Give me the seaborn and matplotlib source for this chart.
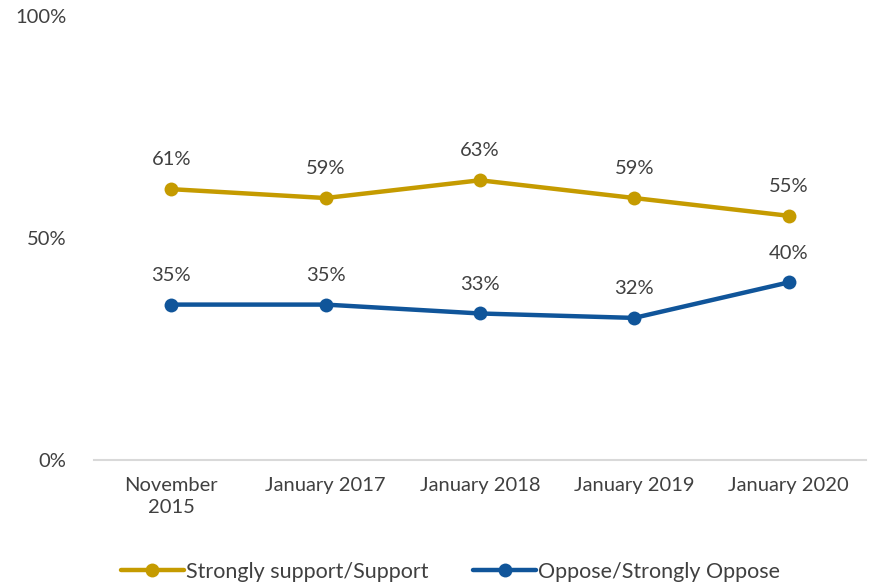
import pandas as pd
import numpy as np
import matplotlib.pyplot as plt
import seaborn as sns

periods = ["November\n2015", "January 2017", "January 2018", "January 2019", "January 2020"]
support = [61, 59, 63, 59, 55]
oppose = [35, 35, 33, 32, 40]
series_names = ["Strongly support/Support", "Oppose/Strongly Oppose"]
colors = ["#C59B00", "#10559A"]

df = pd.DataFrame({
    "period": periods * 2,
    "pos": list(range(len(periods))) * 2,
    "value": support + oppose,
    "series": [series_names[0]] * 5 + [series_names[1]] * 5,
})

sns.set_style("white")
plt.rcParams["font.family"] = ["Lato", "DejaVu Sans"]

fig = plt.figure(figsize=(8.71, 5.88), dpi=100)
ax = fig.add_axes([0.108, 0.2177, 0.886, 0.7551])

sns.lineplot(data=df, x="pos", y="value", hue="series", palette=colors,
             marker="o", markersize=10, linewidth=3.2, markeredgewidth=0, ax=ax)

# data labels
for vals in [support, oppose]:
    for i, v in enumerate(vals):
        ax.annotate(f"{v}%", (i, v), xytext=(0, 15), textcoords="offset points",
                    ha="center", va="bottom", fontsize=14.5, color="#404040")

ax.set_xlim(-0.5, 4.5)
ax.set_ylim(0, 100)
ax.set_xticks(range(len(periods)))
ax.set_xticklabels(periods, fontsize=14.5, color="#404040", linespacing=1.35)
ax.set_yticks([0, 50, 100])
ax.set_yticklabels(["0%", "50%", "100%"], fontsize=14.5, color="#404040")
ax.tick_params(axis="y", length=0, pad=20)
ax.tick_params(axis="x", length=0, pad=12)
ax.set_xlabel("")
ax.set_ylabel("")
for s in ["top", "right", "left"]:
    ax.spines[s].set_visible(False)
ax.spines["bottom"].set_color("#D9D9D9")
ax.spines["bottom"].set_linewidth(1.5)

handles, labels = ax.get_legend_handles_labels()
ax.legend(handles, labels, loc="center", bbox_to_anchor=(0.462, -0.252),
          ncol=2, frameon=False, fontsize=15.5, labelcolor="#404040",
          handlelength=2.9, handletextpad=0.1, columnspacing=2.1)

fig.savefig("out.png", dpi=100)
